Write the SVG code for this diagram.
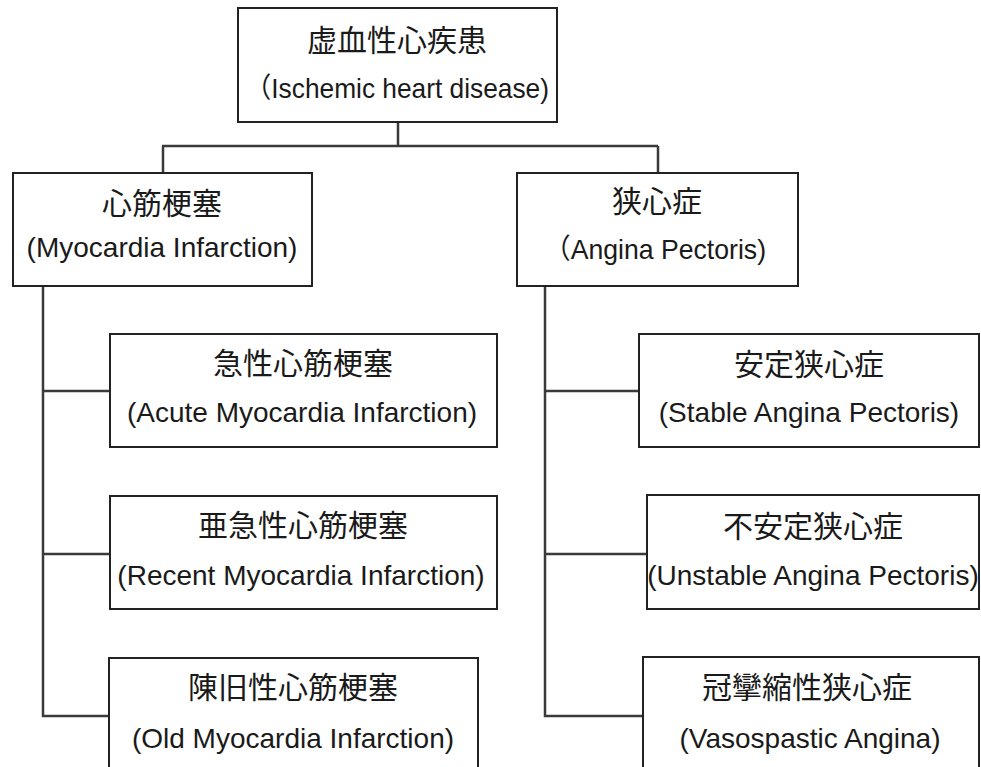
<svg xmlns="http://www.w3.org/2000/svg" width="981" height="767" viewBox="0 0 981 767">
<style>
.box{fill:#fff;stroke:#222;stroke-width:2}
.zh{font-family:"Noto Sans CJK JP","Noto Sans CJK TC",sans-serif;font-size:30px;fill:#1a1a1a;text-anchor:middle}
.en{font-family:"Liberation Sans","Noto Sans CJK JP",sans-serif;font-size:28px;fill:#1a1a1a;text-anchor:middle}
.con{fill:none;stroke:#3a3a3a;stroke-width:2.5}
</style>
<rect width="981" height="767" fill="#fff"/>
<g id="connectors">
<path class="con" d="M398 122V146M162 146H658M163 146V173M658 146V173"/>
<path class="con" d="M43 286V716H110M43 391H110M43 554H110"/>
<path class="con" d="M545 286V716H643M545 391H639M545 554H647"/>
</g>
<g id="ischemic">
<rect class="box" x="238" y="8" width="319" height="114"/>
<text class="zh" x="397" y="51">虚血性心疾患</text>
<text class="en" x="397" y="98" textLength="304" lengthAdjust="spacingAndGlyphs">（Ischemic heart disease)</text>
</g>
<g id="myocardia">
<rect class="box" x="13" y="173" width="299" height="113"/>
<text class="zh" x="162" y="214">心筋梗塞</text>
<text class="en" x="162" y="257">(Myocardia Infarction)</text>
</g>
<g id="angina">
<rect class="box" x="517" y="173" width="281" height="113"/>
<text class="zh" x="657" y="212">狭心症</text>
<text class="en" x="655" y="259" textLength="222" lengthAdjust="spacingAndGlyphs">（Angina Pectoris)</text>
</g>
<g id="acute">
<rect class="box" x="110" y="334" width="387" height="113"/>
<text class="zh" x="303" y="374">急性心筋梗塞</text>
<text class="en" x="302" y="422">(Acute Myocardia Infarction)</text>
</g>
<g id="recent">
<rect class="box" x="110" y="496" width="387" height="113"/>
<text class="zh" x="303" y="536">亜急性心筋梗塞</text>
<text class="en" x="301" y="585">(Recent Myocardia Infarction)</text>
</g>
<g id="old">
<rect class="box" x="109" y="658" width="369" height="130"/>
<text class="zh" x="293" y="698">陳旧性心筋梗塞</text>
<text class="en" x="293" y="748">(Old Myocardia Infarction)</text>
</g>
<g id="stable">
<rect class="box" x="639" y="334" width="340" height="113"/>
<text class="zh" x="809" y="375">安定狭心症</text>
<text class="en" x="809" y="422">(Stable Angina Pectoris)</text>
</g>
<g id="unstable">
<rect class="box" x="647" y="495" width="332" height="114"/>
<text class="zh" x="813" y="537">不安定狭心症</text>
<text class="en" x="813" y="585">(Unstable Angina Pectoris)</text>
</g>
<g id="vasospastic">
<rect class="box" x="643" y="657" width="336" height="130"/>
<text class="zh" x="807" y="698">冠攣縮性狭心症</text>
<text class="en" x="810" y="748">(Vasospastic Angina)</text>
</g>
</svg>
